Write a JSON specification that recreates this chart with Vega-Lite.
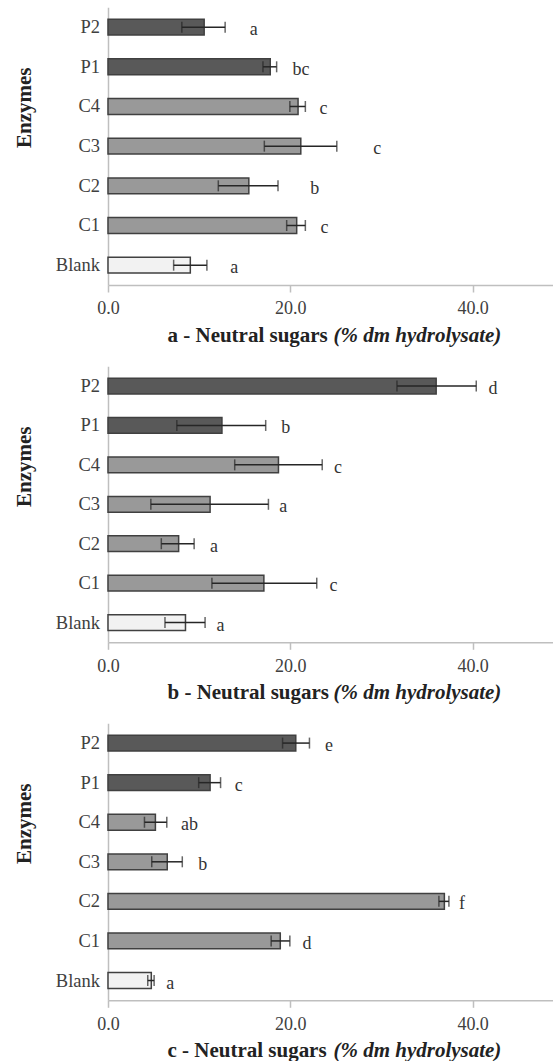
{
  "$schema": "https://vega.github.io/schema/vega-lite/v6.json",
  "padding": {"left": 13, "top": 7.3, "right": 0, "bottom": 0},
  "background": "white",
  "config": {"view": {"stroke": null}, "font": "Liberation Serif, Times New Roman, Times, DejaVu Serif, serif"},
  "datasets": {
    "sugars": [
      {"panel": "a", "Enzymes": "P2", "value": 10.55, "lo": 8.1, "hi": 12.85, "letter": "a", "letter_x": 15.55},
      {"panel": "a", "Enzymes": "P1", "value": 17.8, "lo": 17.0, "hi": 18.5, "letter": "bc", "letter_x": 20.25},
      {"panel": "a", "Enzymes": "C4", "value": 20.85, "lo": 19.95, "hi": 21.65, "letter": "c", "letter_x": 23.2},
      {"panel": "a", "Enzymes": "C3", "value": 21.15, "lo": 17.15, "hi": 25.1, "letter": "c", "letter_x": 29.1},
      {"panel": "a", "Enzymes": "C2", "value": 15.45, "lo": 12.1, "hi": 18.65, "letter": "b", "letter_x": 22.2},
      {"panel": "a", "Enzymes": "C1", "value": 20.7, "lo": 19.6, "hi": 21.65, "letter": "c", "letter_x": 23.3},
      {"panel": "a", "Enzymes": "Blank", "value": 9.03, "lo": 7.2, "hi": 10.85, "letter": "a", "letter_x": 13.4},
      {"panel": "b", "Enzymes": "P2", "value": 36.0, "lo": 31.7, "hi": 40.4, "letter": "d", "letter_x": 41.75},
      {"panel": "b", "Enzymes": "P1", "value": 12.5, "lo": 7.55, "hi": 17.3, "letter": "b", "letter_x": 19.0},
      {"panel": "b", "Enzymes": "C4", "value": 18.7, "lo": 13.9, "hi": 23.5, "letter": "c", "letter_x": 24.8},
      {"panel": "b", "Enzymes": "C3", "value": 11.2, "lo": 4.7, "hi": 17.6, "letter": "a", "letter_x": 18.8},
      {"panel": "b", "Enzymes": "C2", "value": 7.75, "lo": 5.85, "hi": 9.45, "letter": "a", "letter_x": 11.2},
      {"panel": "b", "Enzymes": "C1", "value": 17.1, "lo": 11.4, "hi": 22.9, "letter": "c", "letter_x": 24.3},
      {"panel": "b", "Enzymes": "Blank", "value": 8.5, "lo": 6.25, "hi": 10.65, "letter": "a", "letter_x": 11.9},
      {"panel": "c", "Enzymes": "P2", "value": 20.6, "lo": 19.15, "hi": 22.1, "letter": "e", "letter_x": 23.8},
      {"panel": "c", "Enzymes": "P1", "value": 11.2, "lo": 9.95, "hi": 12.35, "letter": "c", "letter_x": 13.9},
      {"panel": "c", "Enzymes": "C4", "value": 5.2, "lo": 4.0, "hi": 6.45, "letter": "ab", "letter_x": 8.0},
      {"panel": "c", "Enzymes": "C3", "value": 6.5, "lo": 4.8, "hi": 8.15, "letter": "b", "letter_x": 9.9},
      {"panel": "c", "Enzymes": "C2", "value": 36.9, "lo": 36.3, "hi": 37.4, "letter": "f", "letter_x": 38.5},
      {"panel": "c", "Enzymes": "C1", "value": 18.9, "lo": 17.9, "hi": 19.95, "letter": "d", "letter_x": 21.35},
      {"panel": "c", "Enzymes": "Blank", "value": 4.75, "lo": 4.36, "hi": 5.06, "letter": "a", "letter_x": 6.4}
    ]
  },
  "vconcat": [
    {
      "width": 445.3, "height": 277.7,
      "data": {"name": "sugars"},
      "transform": [{"filter": "datum.panel === 'a'"}],
      "encoding": {
        "y": {"field": "Enzymes", "type": "nominal",
          "scale": {"domain": ["P2", "P1", "C4", "C3", "C2", "C1", "Blank"], "paddingInner": 0.6, "paddingOuter": 0.3},
          "axis": {"title": "Enzymes", "ticks": false, "tickSize": 0, "domainColor": "#bfbfbf", "domainWidth": 1.5, "labelFontSize": 18.5, "labelColor": "#404040", "labelPadding": 8.5, "titleFontSize": 21, "titleFontWeight": "bold", "titleColor": "#222222", "titleAngle": 270, "titleX": -77.7, "titleY": 100, "titleAlign": "center", "titleBaseline": "alphabetic"}}
      },
      "layer": [
        {"mark": {"type": "bar", "stroke": "#404040", "strokeWidth": 1.5},
         "encoding": {
           "x": {"field": "value", "type": "quantitative", "scale": {"domain": [0, 48.85], "nice": false},
             "axis": {"title": "a - Neutral sugars", "values": [0, 20, 40], "format": ".1f", "grid": false, "domainColor": "#bfbfbf", "domainWidth": 1.5, "tickColor": "#bfbfbf", "tickWidth": 1.5, "tickSize": 7, "labelFontSize": 18, "labelColor": "#404040", "labelPadding": 22, "labelBaseline": "alphabetic", "labelFlush": false, "titleFontSize": 21, "titleFontWeight": "bold", "titleColor": "#222222", "titleAlign": "left", "titleX": 59, "titleY": 56.5, "titleBaseline": "alphabetic"}},
           "fill": {"field": "Enzymes", "type": "nominal", "scale": {"domain": ["P2", "P1", "C4", "C3", "C2", "C1", "Blank"], "range": ["#595959", "#595959", "#999999", "#999999", "#999999", "#999999", "#f2f2f2"]}, "legend": null}
         }},
        {"mark": {"type": "rule", "color": "#262626", "strokeWidth": 1.5},
         "encoding": {"x": {"field": "lo", "type": "quantitative", "axis": null}, "x2": {"field": "hi"}}},
        {"mark": {"type": "tick", "color": "#262626", "size": 11, "thickness": 1.5},
         "encoding": {"x": {"field": "lo", "type": "quantitative", "axis": null}}},
        {"mark": {"type": "tick", "color": "#262626", "size": 11, "thickness": 1.5},
         "encoding": {"x": {"field": "hi", "type": "quantitative", "axis": null}}},
        {"mark": {"type": "text", "align": "left", "baseline": "alphabetic", "dy": 8, "fontSize": 18, "color": "#333333"},
         "encoding": {"x": {"field": "letter_x", "type": "quantitative",
             "axis": {"orient": "bottom", "domain": false, "ticks": false, "labels": false, "grid": false, "title": "(% dm hydrolysate)", "titleFontSize": 21, "titleFontWeight": "bold", "titleFontStyle": "italic", "titleColor": "#222222", "titleAlign": "left", "titleX": 225, "titleY": 56.5, "titleBaseline": "alphabetic"}},
           "text": {"field": "letter"}}}
      ],
      "resolve": {"axis": {"x": "independent"}}
    },
    {
      "width": 445.3, "height": 276,
      "data": {"name": "sugars"},
      "transform": [{"filter": "datum.panel === 'b'"}],
      "encoding": {
        "y": {"field": "Enzymes", "type": "nominal",
          "scale": {"domain": ["P2", "P1", "C4", "C3", "C2", "C1", "Blank"], "paddingInner": 0.6, "paddingOuter": 0.3},
          "axis": {"title": "Enzymes", "ticks": false, "tickSize": 0, "domainColor": "#bfbfbf", "domainWidth": 1.5, "labelFontSize": 18.5, "labelColor": "#404040", "labelPadding": 8.5, "titleFontSize": 21, "titleFontWeight": "bold", "titleColor": "#222222", "titleAngle": 270, "titleX": -77.7, "titleY": 100, "titleAlign": "center", "titleBaseline": "alphabetic"}}
      },
      "layer": [
        {"mark": {"type": "bar", "stroke": "#404040", "strokeWidth": 1.5},
         "encoding": {
           "x": {"field": "value", "type": "quantitative", "scale": {"domain": [0, 48.85], "nice": false},
             "axis": {"title": "b - Neutral sugars", "values": [0, 20, 40], "format": ".1f", "grid": false, "domainColor": "#bfbfbf", "domainWidth": 1.5, "tickColor": "#bfbfbf", "tickWidth": 1.5, "tickSize": 7, "labelFontSize": 18, "labelColor": "#404040", "labelPadding": 22, "labelBaseline": "alphabetic", "labelFlush": false, "titleFontSize": 21, "titleFontWeight": "bold", "titleColor": "#222222", "titleAlign": "left", "titleX": 59, "titleY": 56.5, "titleBaseline": "alphabetic"}},
           "fill": {"field": "Enzymes", "type": "nominal", "scale": {"domain": ["P2", "P1", "C4", "C3", "C2", "C1", "Blank"], "range": ["#595959", "#595959", "#999999", "#999999", "#999999", "#999999", "#f2f2f2"]}, "legend": null}
         }},
        {"mark": {"type": "rule", "color": "#262626", "strokeWidth": 1.5},
         "encoding": {"x": {"field": "lo", "type": "quantitative", "axis": null}, "x2": {"field": "hi"}}},
        {"mark": {"type": "tick", "color": "#262626", "size": 11, "thickness": 1.5},
         "encoding": {"x": {"field": "lo", "type": "quantitative", "axis": null}}},
        {"mark": {"type": "tick", "color": "#262626", "size": 11, "thickness": 1.5},
         "encoding": {"x": {"field": "hi", "type": "quantitative", "axis": null}}},
        {"mark": {"type": "text", "align": "left", "baseline": "alphabetic", "dy": 8, "fontSize": 18, "color": "#333333"},
         "encoding": {"x": {"field": "letter_x", "type": "quantitative",
             "axis": {"orient": "bottom", "domain": false, "ticks": false, "labels": false, "grid": false, "title": "(% dm hydrolysate)", "titleFontSize": 21, "titleFontWeight": "bold", "titleFontStyle": "italic", "titleColor": "#222222", "titleAlign": "left", "titleX": 225, "titleY": 56.5, "titleBaseline": "alphabetic"}},
           "text": {"field": "letter"}}}
      ],
      "resolve": {"axis": {"x": "independent"}}
    },
    {
      "width": 445.3, "height": 277,
      "data": {"name": "sugars"},
      "transform": [{"filter": "datum.panel === 'c'"}],
      "encoding": {
        "y": {"field": "Enzymes", "type": "nominal",
          "scale": {"domain": ["P2", "P1", "C4", "C3", "C2", "C1", "Blank"], "paddingInner": 0.6, "paddingOuter": 0.3},
          "axis": {"title": "Enzymes", "ticks": false, "tickSize": 0, "domainColor": "#bfbfbf", "domainWidth": 1.5, "labelFontSize": 18.5, "labelColor": "#404040", "labelPadding": 8.5, "titleFontSize": 21, "titleFontWeight": "bold", "titleColor": "#222222", "titleAngle": 270, "titleX": -77.7, "titleY": 100, "titleAlign": "center", "titleBaseline": "alphabetic"}}
      },
      "layer": [
        {"mark": {"type": "bar", "stroke": "#404040", "strokeWidth": 1.5},
         "encoding": {
           "x": {"field": "value", "type": "quantitative", "scale": {"domain": [0, 48.85], "nice": false},
             "axis": {"title": "c - Neutral sugars", "values": [0, 20, 40], "format": ".1f", "grid": false, "domainColor": "#bfbfbf", "domainWidth": 1.5, "tickColor": "#bfbfbf", "tickWidth": 1.5, "tickSize": 7, "labelFontSize": 18, "labelColor": "#404040", "labelPadding": 22, "labelBaseline": "alphabetic", "labelFlush": false, "titleFontSize": 21, "titleFontWeight": "bold", "titleColor": "#222222", "titleAlign": "left", "titleX": 59, "titleY": 56.5, "titleBaseline": "alphabetic"}},
           "fill": {"field": "Enzymes", "type": "nominal", "scale": {"domain": ["P2", "P1", "C4", "C3", "C2", "C1", "Blank"], "range": ["#595959", "#595959", "#999999", "#999999", "#999999", "#999999", "#f2f2f2"]}, "legend": null}
         }},
        {"mark": {"type": "rule", "color": "#262626", "strokeWidth": 1.5},
         "encoding": {"x": {"field": "lo", "type": "quantitative", "axis": null}, "x2": {"field": "hi"}}},
        {"mark": {"type": "tick", "color": "#262626", "size": 11, "thickness": 1.5},
         "encoding": {"x": {"field": "lo", "type": "quantitative", "axis": null}}},
        {"mark": {"type": "tick", "color": "#262626", "size": 11, "thickness": 1.5},
         "encoding": {"x": {"field": "hi", "type": "quantitative", "axis": null}}},
        {"mark": {"type": "text", "align": "left", "baseline": "alphabetic", "dy": 8, "fontSize": 18, "color": "#333333"},
         "encoding": {"x": {"field": "letter_x", "type": "quantitative",
             "axis": {"orient": "bottom", "domain": false, "ticks": false, "labels": false, "grid": false, "title": "(% dm hydrolysate)", "titleFontSize": 21, "titleFontWeight": "bold", "titleFontStyle": "italic", "titleColor": "#222222", "titleAlign": "left", "titleX": 225, "titleY": 56.5, "titleBaseline": "alphabetic"}},
           "text": {"field": "letter"}}}
      ],
      "resolve": {"axis": {"x": "independent"}}
    }
  ],
  "spacing": 81,
  "bounds": "flush"
}
